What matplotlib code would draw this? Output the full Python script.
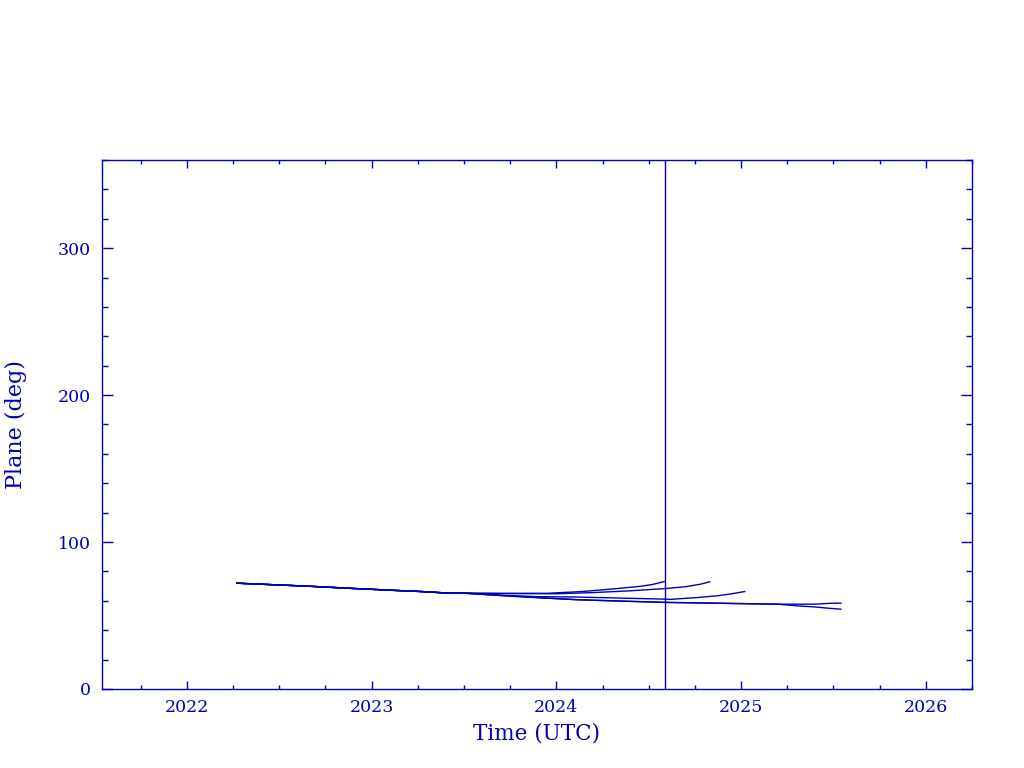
import numpy as np
import matplotlib
matplotlib.use("Agg")
import matplotlib.pyplot as plt
from matplotlib.ticker import MultipleLocator

# couleur type pgplot
BLEU = "#0000b4"

# tronc commun des 5 courbes (annee decimale, plan en deg)
tronc_t = [2022.27, 2022.57, 2022.68, 2022.79, 2022.90, 2023.02, 2023.14, 2023.27, 2023.38, 2023.50]
tronc_v = [72.0, 70.4, 69.8, 69.1, 68.4, 67.7, 67.0, 66.3, 65.5, 65.2]

# branches apres separation
a_t = [2023.70, 2023.95, 2024.14, 2024.30, 2024.45, 2024.52, 2024.587]
a_v = [65.0, 65.1, 66.3, 68.0, 69.8, 71.1, 73.2]

b_t = [2023.70, 2024.00, 2024.20, 2024.40, 2024.587, 2024.70, 2024.78, 2024.83]
b_v = [65.0, 64.8, 65.6, 66.8, 68.3, 69.6, 71.3, 72.9]

c_t = [2023.70, 2023.90, 2024.10, 2024.30, 2024.50, 2024.62, 2024.76, 2024.87, 2024.94, 2025.02]
c_v = [63.8, 62.8, 62.6, 62.0, 61.4, 61.0, 62.2, 63.4, 64.6, 66.3]

de_t = [2023.70, 2023.92, 2024.12, 2024.35, 2024.60, 2024.90, 2025.20]
de_v = [63.6, 62.0, 60.7, 59.8, 58.9, 58.3, 57.7]

d_t = [2025.40, 2025.48, 2025.54]
d_v = [57.7, 58.3, 58.4]

e_t = [2025.30, 2025.40, 2025.47, 2025.54]
e_v = [56.6, 55.8, 55.0, 54.3]

# date courante (ligne verticale)
maintenant = 2024.587

plt.rcParams['font.family'] = ['DejaVu Serif']
fig = plt.figure(figsize=(10.24, 7.68), dpi=100)
ax = fig.add_axes([0.0996, 0.1029, 0.8496, 0.6888])

courbes = [
    (tronc_t + a_t, tronc_v + a_v),
    (tronc_t + b_t, tronc_v + b_v),
    (tronc_t + c_t, tronc_v + c_v),
    (tronc_t + de_t + d_t, tronc_v + de_v + d_v),
    (tronc_t + de_t + e_t, tronc_v + de_v + e_v),
]
for t, v in courbes:
    ax.plot(t, v, color=BLEU, lw=1.0)

ax.axvline(maintenant, color=BLEU, lw=1.0)

ax.set_xlim(2021.54, 2026.25)
ax.set_ylim(0, 360)
ax.xaxis.set_major_locator(MultipleLocator(1))
ax.xaxis.set_minor_locator(MultipleLocator(0.25))
ax.yaxis.set_major_locator(MultipleLocator(100))
ax.yaxis.set_minor_locator(MultipleLocator(20))
ax.xaxis.set_major_formatter(plt.FuncFormatter(lambda x, p: "%d" % round(x)))

for s in ax.spines.values():
    s.set_color(BLEU)
    s.set_linewidth(1.0)
ax.tick_params(axis='both', which='both', direction='in', colors=BLEU,
               top=True, right=True, labelsize=12.5, width=1.0)
ax.tick_params(axis='x', which='major', length=6, pad=7)
ax.tick_params(axis='x', which='minor', length=3)
ax.tick_params(axis='y', which='major', length=8, pad=8)
ax.tick_params(axis='y', which='minor', length=4.5)

ax.set_xlabel("Time (UTC)", color=BLEU, fontsize=15.5, labelpad=5)
ax.set_ylabel("Plane (deg)", color=BLEU, fontsize=16, labelpad=22)

fig.savefig("out.png", dpi=100)
